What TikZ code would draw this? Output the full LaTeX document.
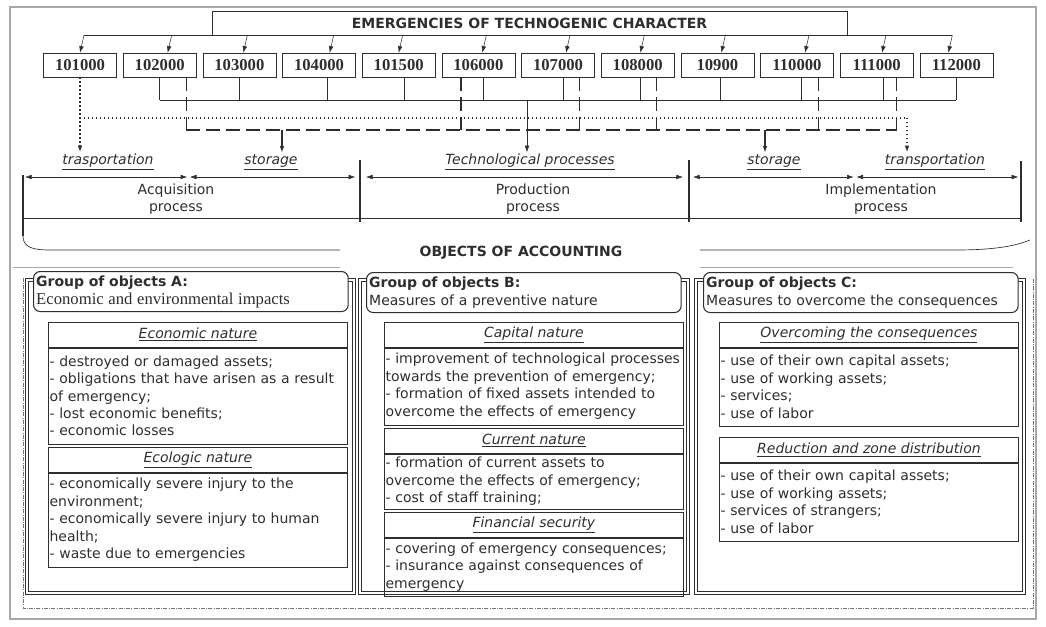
\documentclass[tikz,border=0pt]{standalone}
\usepackage{fontspec}
\usepackage{tikz}
\usetikzlibrary{positioning,arrows.meta}
\setmainfont{DejaVu Sans}[ItalicFont={DejaVu Sans Oblique},BoldFont={DejaVu Sans Bold},BoldItalicFont={DejaVu Sans Bold Oblique}]
\newfontfamily\codefont{Liberation Serif}
\definecolor{ink}{HTML}{2E2E2E}
\definecolor{rim}{HTML}{A8A8A8}
\newcommand{\hd}[1]{\underline{\textit{#1}}}

\begin{document}
\begin{tikzpicture}[
  x=0.75pt, y=-0.75pt,
  font=\fontsize{10.5}{13.1}\selectfont, text=ink,
  title/.style={draw=ink, minimum width=476pt, minimum height=18pt, inner sep=0pt, font=\fontsize{10.5}{13}\selectfont\bfseries},
  code/.style={draw=ink, minimum width=54.75pt, minimum height=18pt, inner sep=0pt, font=\codefont\bfseries\fontsize{12.5}{14}\selectfont},
  lbl/.style={inner sep=1pt},
  proc/.style={align=center, inner sep=0pt, font=\fontsize{10.5}{12.75}\selectfont},
  grp/.style={draw=ink, line width=0.6pt},
  ghead/.style={draw=ink, fill=white, thick, rounded corners=5pt, anchor=north west, minimum height=30pt, text width=232pt, inner sep=2pt, align=left, font=\fontsize{10.5}{13.5}\selectfont},
  shead/.style={draw=ink, minimum width=224.5pt, minimum height=18.75pt, inner sep=0pt},
  sbody/.style={draw=ink, text width=222.5pt, inner xsep=1pt, inner ysep=2pt, align=left},
  arr/.style={-{Latex[length=5pt,width=3.5pt]}, ink},
  dbl/.style={{Latex[length=5pt,width=3.5pt]}-{Latex[length=5pt,width=3.5pt]}, ink},
  sline/.style={ink, line width=0.5pt},
  dline/.style={ink, line width=1.2pt, dash pattern=on 10pt off 5pt},
  tline/.style={ink, line width=1pt, dotted},
  bar/.style={ink, line width=2.2pt}
]
\useasboundingbox (0,0) rectangle (1046,626);
\draw[rim, line width=1.5pt] (10,7) rectangle (1036,619);

% emergencies and codes
\node[title] (emg) at (529.5,23) {EMERGENCIES OF TECHNOGENIC CHARACTER};
\node[code] (c1) at (80,65) {101000};
\node[code, right=4.6pt of c1] (c2) {102000};
\node[code, right=4.6pt of c2] (c3) {103000};
\node[code, right=4.6pt of c3] (c4) {104000};
\node[code, right=4.6pt of c4] (c5) {101500};
\node[code, right=4.6pt of c5] (c6) {106000};
\node[code, right=4.6pt of c6] (c7) {107000};
\node[code, right=4.6pt of c7] (c8) {108000};
\node[code, right=4.6pt of c8] (c9) {10900};
\node[code, right=4.6pt of c9] (c10) {110000};
\node[code, right=4.6pt of c10] (c11) {111000};
\node[code, right=4.6pt of c11] (c12) {112000};

\draw[sline] ([xshift=3pt]c1.north |- emg.south) -- ([xshift=-3pt]c12.north |- emg.south);
\draw[arr] ([xshift=3pt]c1.north |- emg.south) -- (c1.north);
\draw[arr] ([xshift=9pt]c2.north |- emg.south) -- ([xshift=6pt]c2.north);
\draw[arr] ([xshift=6pt]c3.north |- emg.south) -- ([xshift=3pt]c3.north);
\draw[arr] ([xshift=11pt]c4.north |- emg.south) -- ([xshift=8pt]c4.north);
\draw[arr] ([xshift=3pt]c5.north |- emg.south) -- (c5.north);
\draw[arr] ([xshift=6pt]c6.north |- emg.south) -- ([xshift=3pt]c6.north);
\draw[arr] ([xshift=9pt]c7.north |- emg.south) -- ([xshift=6pt]c7.north);
\draw[arr] ([xshift=5pt]c8.north |- emg.south) -- ([xshift=2pt]c8.north);
\draw[arr] ([xshift=6pt]c9.north |- emg.south) -- ([xshift=3pt]c9.north);
\draw[arr] ([xshift=9pt]c10.north |- emg.south) -- ([xshift=6pt]c10.north);
\draw[arr] ([xshift=7pt]c11.north |- emg.south) -- ([xshift=4pt]c11.north);
\draw[arr] ([xshift=-3pt]c12.north |- emg.south) -- ([xshift=-6pt]c12.north);

% stage labels
\node[lbl] (trA) at (108,162) {\hd{trasportation}};
\node[lbl] (stA) at (271,162) {\hd{storage}};
\node[lbl] (tp) at (530,162) {\hd{Technological processes}};
\node[lbl] (stB) at (774,162) {\hd{storage}};
\node[lbl] (trB) at (935,162) {\hd{transportation}};

% solid bus
\coordinate (sbus) at (527,100);
\draw[sline] (c2.south) -- (c2.south |- sbus);
\draw[sline] (c3.south) -- (c3.south |- sbus);
\draw[sline] ([xshift=6pt]c4.south) -- ([xshift=6pt]c4.south |- sbus);
\draw[sline] ([xshift=4pt]c5.south) -- ([xshift=4pt]c5.south |- sbus);
\draw[sline] ([xshift=4pt]c6.south) -- ([xshift=4pt]c6.south |- sbus);
\draw[sline] ([xshift=4pt]c7.south) -- ([xshift=4pt]c7.south |- sbus);
\draw[sline] ([xshift=2pt]c8.south) -- ([xshift=2pt]c8.south |- sbus);
\draw[sline] ([xshift=2pt]c9.south) -- ([xshift=2pt]c9.south |- sbus);
\draw[sline] ([xshift=3pt]c10.south) -- ([xshift=3pt]c10.south |- sbus);
\draw[sline] ([xshift=5pt]c11.south) -- ([xshift=5pt]c11.south |- sbus);
\draw[sline] (c12.south) -- (c12.south |- sbus);
\draw[sline] (c2.south |- sbus) -- (c12.south |- sbus);
\draw[arr] (sbus) -- (sbus |- tp.north);

% dotted bus
\coordinate (tbus) at (907,118);
\draw[tline, arr] (c1.south) -- (c1.south |- trA.north);
\draw[tline] (c1.south |- tbus) -- (tbus);
\draw[tline, arr] (tbus) -- (tbus |- trB.north);

% dashed bus
\coordinate (dbus) at (187,130);
\coordinate (dA) at (282,130);
\coordinate (dB) at (765,130);
\draw[dline] ([xshift=20pt]c2.south) -- ([xshift=20pt]c2.south |- dbus);
\draw[dline] ([xshift=-13pt]c6.south) -- ([xshift=-13pt]c6.south |- dbus);
\draw[dline] ([xshift=16pt]c7.south) -- ([xshift=16pt]c7.south |- dbus);
\draw[dline] ([xshift=14pt]c8.south) -- ([xshift=14pt]c8.south |- dbus);
\draw[dline] ([xshift=16pt]c10.south) -- ([xshift=16pt]c10.south |- dbus);
\draw[dline] ([xshift=15pt]c11.south) -- ([xshift=15pt]c11.south |- dbus);
\draw[dline] ([xshift=20pt]c2.south |- dbus) -- ([xshift=15pt]c11.south |- dbus);
\draw[arr, line width=1pt] (dA) -- (dA |- stA.north);
\draw[arr, line width=1pt] (dB) -- (dB |- stB.north);

% processes
\coordinate (p0) at (23,177);
\coordinate (pm1) at (188.5,177);
\coordinate (p1) at (360,177);
\coordinate (p2) at (689,177);
\coordinate (pm3) at (855,177);
\coordinate (p3) at (1021,177);
\draw[dbl] ([xshift=1.5pt]p0) -- ([xshift=-1pt]pm1);
\draw[dbl] ([xshift=1pt]pm1) -- ([xshift=-3.5pt]p1);
\draw[dbl] ([xshift=4.5pt]p1) -- ([xshift=-4.5pt]p2);
\draw[dbl] ([xshift=3pt]p2) -- ([xshift=-1pt]pm3);
\draw[dbl] ([xshift=1pt]pm3) -- ([xshift=-2pt]p3);
\draw[bar] (23,175) -- (23,236);
\draw[bar] (360,160) -- (360,222);
\draw[bar] (689,160) -- (689,222);
\draw[bar] (1021,161) -- (1021,222);
\draw[sline] (23,218) -- (1021,218);
\node[proc] (acq) at (176,199.5) {Acquisition\\process};
\node[proc] (prd) at (533,199.5) {Production\\process};
\node[proc] (imp) at (881,199.5) {Implementation\\process};

% objects of accounting
\draw[sline] (23,236) .. controls (23,247) and (32,250) .. (50,250) -- (340,250);
\draw[sline] (700,250) -- (955,250) .. controls (995,250) and (1015,246) .. (1030,240);
\node[font=\fontsize{10.5}{13}\selectfont\bfseries] (obj) at (521,253) {OBJECTS OF ACCOUNTING};
\draw[rim, line width=0.6pt] (13,267) -- (340,267);
\draw[rim, line width=0.6pt] (700,267) -- (1013,267);
\draw[black!55, line width=0.6pt, dash pattern=on 3pt off 1pt on 0.6pt off 1pt] (23,278) -- (23,608) -- (1033,608) -- (1033,278);

% groups
\draw[grp] (25,278) rectangle (355,594);
\draw[grp] (28,281) rectangle (352,591);
\draw[grp] (358,278) rectangle (689,594);
\draw[grp] (361,281) rectangle (686,591);
\draw[grp] (694,278) rectangle (1025,594);
\draw[grp] (697,281) rectangle (1022,591);
\node[ghead] (hA) at (33,271) {\textbf{Group of objects A:}\\{\codefont\fontsize{12.5}{13.5}\selectfont Economic and environmental impacts}};
\node[ghead] (hB) at (366,272) {\textbf{Group of objects B:}\\Measures of a preventive nature};
\node[ghead] (hC) at (703,272) {\textbf{Group of objects C:}\\Measures to overcome the consequences};

% group A
\node[shead, anchor=north west] (ecoH) at (48,322) {\hd{Economic nature}};
\node[sbody, minimum height=72pt, below=0pt of ecoH] (ecoB) {- destroyed or damaged assets;\\- obligations that have arisen as a result\\of emergency;\\- lost economic benefits;\\- economic losses};
\node[shead, below=2.25pt of ecoB] (ecolH) {\hd{Ecologic nature}};
\node[sbody, minimum height=70.5pt, below=0pt of ecolH] (ecolB) {- economically severe injury to the\\environment;\\- economically severe injury to human\\health;\\- waste due to emergencies};

% group B
\node[shead, anchor=north west] (capH) at (384,322) {\hd{Capital nature}};
\node[sbody, minimum height=57.75pt, below=0pt of capH] (capB) {- improvement of technological processes\\towards the prevention of emergency;\\- formation of fixed assets intended to\\overcome the effects of emergency};
\node[shead, below=2.25pt of capB] (curH) {\hd{Current nature}};
\node[sbody, minimum height=41.25pt, below=0pt of curH] (curB) {- formation of current assets to\\overcome the effects of emergency;\\- cost of staff training;};
\node[shead, below=2.25pt of curB] (finH) {\hd{Financial security}};
\node[sbody, minimum height=43.5pt, below=0pt of finH] (finB) {- covering of emergency consequences;\\- insurance against consequences of\\emergency};

% group C
\node[shead, anchor=north west] (ovH) at (719,322) {\hd{Overcoming the consequences}};
\node[sbody, minimum height=58.5pt, below=0pt of ovH] (ovB) {- use of their own capital assets;\\- use of working assets;\\- services;\\- use of labor};
\node[shead, below=8.25pt of ovB] (redH) {\hd{Reduction and zone distribution}};
\node[sbody, minimum height=58.5pt, below=0pt of redH] (redB) {- use of their own capital assets;\\- use of working assets;\\- services of strangers;\\- use of labor};
\end{tikzpicture}
\end{document}
